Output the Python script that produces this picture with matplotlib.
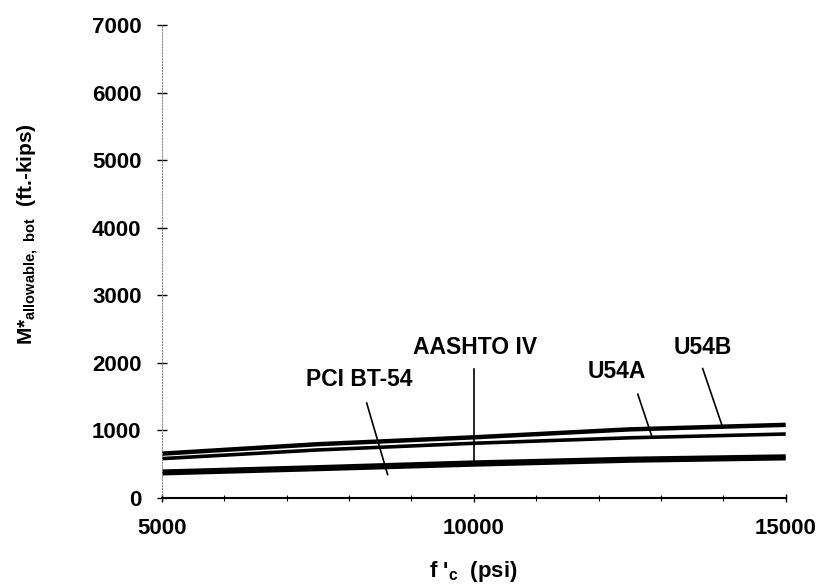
"""
M*allowable,bot vs f'c for the standard girder sections
"""

import matplotlib.pyplot as plt

# concrete strength (psi)
fc = [5000, 7500, 10000, 12500, 15000]

# allowable bottom moment (ft.-kips)
u54b = [650, 790, 892, 1010, 1077]
u54a = [576, 705, 804, 885, 941]
aashto_iv = [385, 450, 520, 575, 610]
pci_bt54 = [357, 420, 487, 545, 580]

# label text, label position, leader line start and end (data units)
labels = [
    ('PCI BT-54', (8170, 1750), (8285, 1400), (8620, 340)),
    ('AASHTO IV', (10020, 2220), (10000, 1910), (10000, 520)),
    ('U54A', (12290, 1870), (12630, 1530), (12850, 920)),
    ('U54B', (13670, 2230), (13670, 1910), (13990, 1040)),
]

plt.rcParams['font.family'] = ['Liberation Sans', 'DejaVu Sans']
plt.rcParams['font.weight'] = 'bold'
plt.rcParams['mathtext.default'] = 'regular'

fig = plt.figure(figsize=(8.21, 5.86), dpi=100)
ax = fig.add_axes([0.197, 0.151, 0.760, 0.806])

ax.plot(fc, u54b, 'k-', linewidth=3.2, solid_capstyle='butt')
ax.plot(fc, u54a, 'k-', linewidth=2.6, solid_capstyle='butt')
ax.plot(fc, aashto_iv, 'k-', linewidth=3.0, solid_capstyle='butt')
ax.plot(fc, pci_bt54, 'k-', linewidth=3.0, solid_capstyle='butt')

for text, pos, start, end in labels:
    ax.text(pos[0], pos[1], text, ha='center', va='center',
            fontsize=16.5, fontweight='bold')
    ax.plot([start[0], end[0]], [start[1], end[1]], 'k-', linewidth=1.2)

ax.set_xlim(5000, 15000)
ax.set_ylim(0, 7000)
ax.set_xticks([5000, 10000, 15000])
ax.set_xticks(range(5000, 15001, 1000), minor=True)
ax.set_yticks(range(0, 7001, 1000))

for s in ['top', 'right']:
    ax.spines[s].set_visible(False)
ax.spines['left'].set_linestyle(':')
ax.spines['left'].set_color('#888888')
ax.spines['left'].set_linewidth(0.8)
ax.spines['bottom'].set_linewidth(1.5)

ax.tick_params(axis='y', direction='inout', length=7, width=1, pad=11,
               labelsize=16)
ax.tick_params(axis='x', which='major', direction='inout', length=6,
               width=1, pad=12, labelsize=16)
ax.tick_params(axis='x', which='minor', direction='inout', length=4,
               width=0.8)
for lab in ax.get_xticklabels() + ax.get_yticklabels():
    lab.set_fontweight('bold')

ax.set_xlabel("f '$_c$  (psi)", fontsize=16, fontweight='bold', labelpad=14)
fig.text(0.034, 0.60, "M*$_{allowable,\\ bot}$  (ft.-kips)", rotation=90,
         ha='center', va='center', fontsize=15, fontweight='bold')

plt.savefig('out.png', dpi=100)
plt.close()
